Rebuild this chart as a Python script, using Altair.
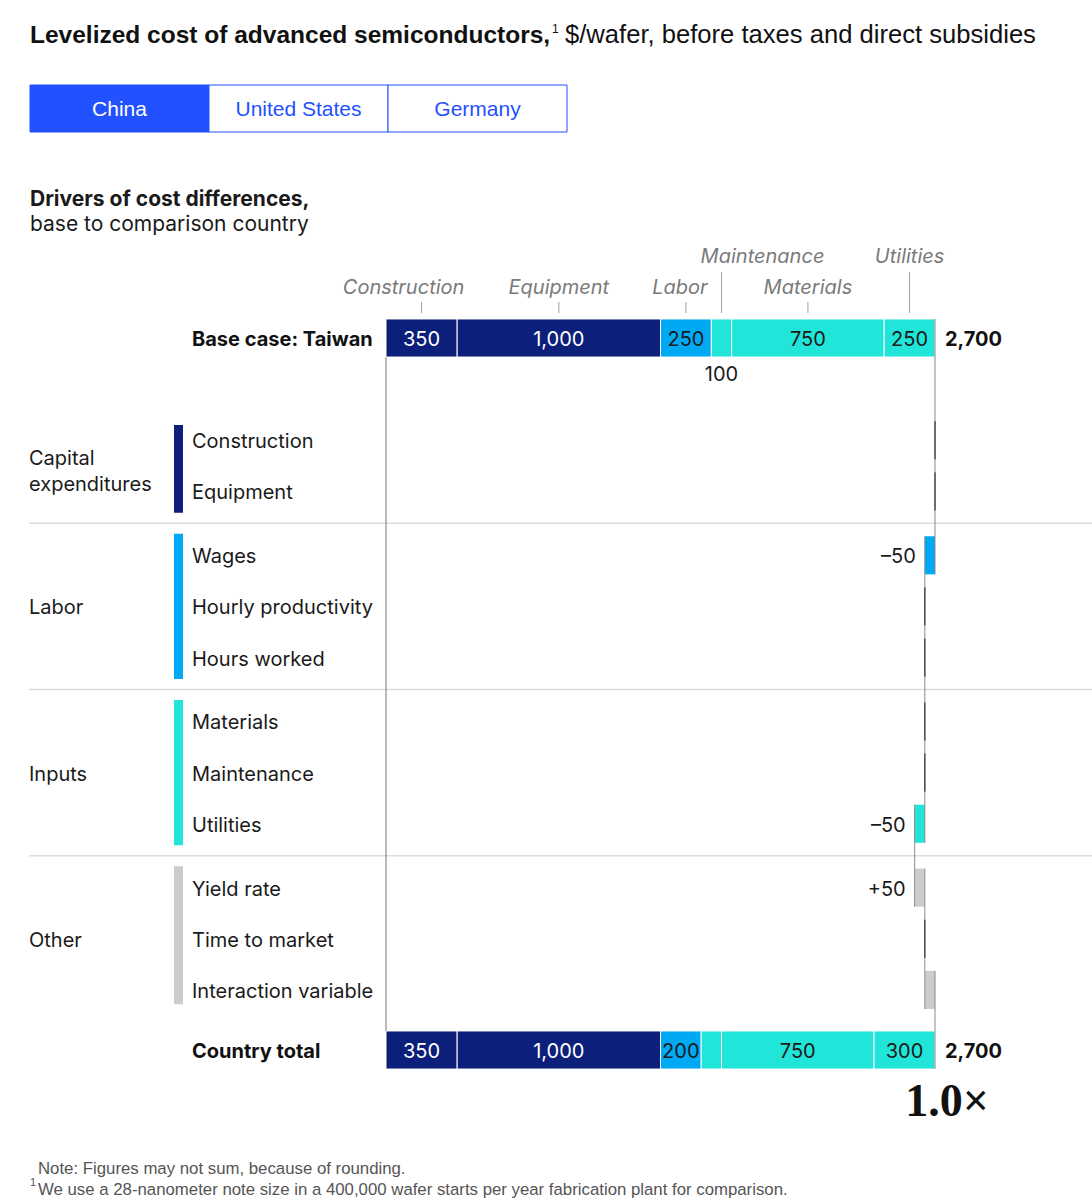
import altair as alt
import pandas as pd

# ---------------- data ----------------
tabs = ["China", "United States", "Germany"]
active_tab = "China"

cost_components = ["Construction", "Equipment", "Labor", "Maintenance", "Materials", "Utilities"]
component_group = ["Capital expenditures", "Capital expenditures", "Labor", "Inputs", "Inputs", "Inputs"]
base_values = [350, 1000, 250, 100, 750, 250]
total_values = [350, 1000, 200, 100, 750, 300]
base_name = "Base case: Taiwan"
total_name = "Country total"

group_names = ["Capital expenditures", "Labor", "Inputs", "Other"]
driver_names = ["Construction", "Equipment", "Wages", "Hourly productivity", "Hours worked",
                "Materials", "Maintenance", "Utilities", "Yield rate", "Time to market",
                "Interaction variable"]
driver_group = (["Capital expenditures"] * 2 + ["Labor"] * 3 + ["Inputs"] * 3 + ["Other"] * 3)
driver_changes = [0, 0, -50, 0, 0, 0, 0, -50, 50, 0, 50]
driver_labels = ["", "", "–50", "", "", "", "", "–50", "+50", "", ""]
multiple_label = "1.0×"

title_bold = "Levelized cost of advanced semiconductors,"
title_rest = "$/wafer, before taxes and direct subsidies"
sub_bold = "Drivers of cost differences,"
sub_rest = "base to comparison country"
note1 = "Note: Figures may not sum, because of rounding."
note2 = "We use a 28-nanometer note size in a 400,000 wafer starts per year fabrication plant for comparison."

# ---------------- styles / layout ----------------
BODY = "Inter"
NARROW = "Liberation Sans"
INK = "#1a1a1a"
BLUE = "#2251ff"
GROUP_COLOR = {"Capital expenditures": "#0b1f7b", "Labor": "#00a9f4",
               "Inputs": "#20e5d8", "Other": "#cccccc"}
HEAD, STEP, GAP, TAIL, HALF = 8, 4, 5, 4.7, 1.49
DY = 2  # optical baseline shift for middle-aligned text
LINE_H = 26

pos = []
p = 0
for i, g in enumerate(driver_group):
    if i == 0:
        p += HEAD
    elif g != driver_group[i - 1]:
        p += GAP
    else:
        p += STEP
    pos.append(p)
base_pos = 0
total_pos = pos[-1] + TAIL
px_per_slot = (1050 - 338) / total_pos

xs = alt.Scale(domain=[0, sum(base_values)], range=[386, 935], nice=False, zero=False)
ys = alt.Scale(domain=[0, total_pos], range=[338, 1050], nice=False, zero=False)

one = pd.DataFrame({"k": [0]})


def txt(s, x, y, size=20, weight="normal", color=INK, align="left",
        baseline="alphabetic", font=BODY, style="normal"):
    return alt.Chart(one).mark_text(
        text=s, align=align, baseline=baseline, fontSize=size, fontWeight=weight,
        color=color, font=font, fontStyle=style
    ).encode(x=alt.value(x), y=alt.value(y))


# stacked bars (base & total)
def stack_rows(values, name, p, below):
    rows, c = [], 0
    for comp, g, v in zip(cost_components, component_group, values):
        rows.append(dict(bar=name, comp=comp, start=c, end=c + v, mid=c + v / 2,
                         top=p - HALF, bot=p + HALF, pos=p, below_pos=p + 2.75,
                         color=GROUP_COLOR[g],
                         tcolor="white" if g == "Capital expenditures" else INK,
                         label=f"{v:,}" if v >= 150 else "",
                         below=f"{v:,}" if (v < 150 and below) else ""))
        c += v
    return rows


stack = pd.DataFrame(stack_rows(base_values, base_name, base_pos, True)
                     + stack_rows(total_values, total_name, total_pos, False))
totals = pd.DataFrame({"bar": [base_name, total_name],
                       "value": [sum(base_values), sum(total_values)],
                       "pos": [base_pos, total_pos]})
totals["label"] = totals["value"].map(lambda v: f"{v:,}")

# waterfall rows
cum = sum(base_values)
wf = []
for n, g, ch, lab, pp in zip(driver_names, driver_group, driver_changes, driver_labels, pos):
    wf.append(dict(name=n, group=g, start=cum, end=cum + ch, left=min(cum, cum + ch),
                   pos=pp, top=pp - HALF, bot=pp + HALF, color=GROUP_COLOR[g],
                   label=lab, zero=(ch == 0)))
    cum += ch
wf = pd.DataFrame(wf)

seq = [(base_pos, sum(base_values))] + list(zip(wf["pos"], wf["end"])) + [(total_pos, sum(total_values))]
conn = pd.DataFrame([dict(x=seq[i][1], y=seq[i][0] - HALF, y2=seq[i + 1][0] + HALF)
                     for i in range(len(seq) - 1)])
leftline = pd.DataFrame([dict(x=0, y=base_pos + HALF, y2=total_pos - HALF)])

# group info
gi = []
n_groups = len(group_names)
for k, g in enumerate(group_names):
    ps = [pp for pp, gg in zip(pos, driver_group) if gg == g]
    words = g.split(" ")
    n_lines = len(words)
    center = (ps[0] + ps[-1]) / 2 + (0.35 if n_lines > 1 else 0)
    gi.append(dict(group=g, first=ps[0], last=ps[-1],
                   y=ps[0] - (1.2 if k == 0 else 1.68),
                   y2=ps[-1] + (1.12 if k == n_groups - 1 else 1.68),
                   mid=center - (n_lines - 1) / 2 * LINE_H / px_per_slot,
                   text="\n".join(words), color=GROUP_COLOR[g]))
gi = pd.DataFrame(gi)
seps = pd.DataFrame({"y": [(gi["last"][i] + gi["first"][i + 1]) / 2 for i in range(len(gi) - 1)]})

row_labels = pd.DataFrame({"name": driver_names, "pos": pos})
bold_labels = pd.DataFrame({"name": [base_name, total_name], "pos": [base_pos, total_pos]})

# top component labels
base_stack = stack[stack["bar"] == base_name].reset_index(drop=True)
tier_y = [288, 288, 288, 257, 288, 257]
lab_dx = [-18, 0, -6, 41, 0, 0]
tick_top = [302, 302, 302, 272, 302, 272]
layers = []

# ---------------- layers ----------------
# title
layers += [
    txt(title_bold, 30, 43, size=24.5, weight="bold", font=NARROW, color="#111"),
    txt("1", 552, 33, size=12, font=NARROW, color="#111"),
    txt(title_rest, 565, 43, size=25.6, font=NARROW, color="#111"),
]
# tabs
for i, t in enumerate(tabs):
    x0, x1 = 30 + 179 * i, 30 + 179 * (i + 1)
    act = t == active_tab
    layers.append(alt.Chart(one).mark_rect(fill=BLUE if act else "white", stroke=BLUE,
                                           strokeWidth=1).encode(
        x=alt.value(x0), x2=alt.value(x1), y=alt.value(85), y2=alt.value(132)))
    layers.append(txt(t, (x0 + x1) / 2, 110, size=21, align="center", baseline="middle",
                      font=NARROW, color="white" if act else BLUE))
# subtitle
layers += [
    txt(sub_bold, 30, 206, size=21, weight="bold"),
    txt(sub_rest, 30, 231, size=21),
]

# separators
layers.append(alt.Chart(seps).mark_rule(color="#dddddd", strokeWidth=1.5).encode(
    x=alt.value(29), x2=alt.value(1092), y=alt.Y("y:Q", scale=ys, axis=None)))

# group color bars & labels
layers.append(alt.Chart(gi).mark_rect().encode(
    x=alt.value(174), x2=alt.value(183),
    y=alt.Y("y:Q", scale=ys, axis=None), y2="y2:Q",
    color=alt.Color("color:N", scale=None)))
layers.append(alt.Chart(gi).mark_text(align="left", baseline="middle", dy=DY, fontSize=20,
                                      font=BODY, color=INK, lineBreak="\n",
                                      lineHeight=LINE_H).encode(
    x=alt.value(29), y=alt.Y("mid:Q", scale=ys, axis=None), text="text:N"))

# row labels
layers.append(alt.Chart(row_labels).mark_text(align="left", baseline="middle", dy=DY,
                                              fontSize=20, font=BODY, color=INK).encode(
    x=alt.value(192), y=alt.Y("pos:Q", scale=ys, axis=None), text="name:N"))
layers.append(alt.Chart(bold_labels).mark_text(align="left", baseline="middle", dy=DY,
                                               fontSize=20, font=BODY, fontWeight="bold",
                                               color="#111").encode(
    x=alt.value(192), y=alt.Y("pos:Q", scale=ys, axis=None), text="name:N"))

# stacked bars
layers.append(alt.Chart(stack).mark_rect(stroke="white", strokeWidth=1).encode(
    x=alt.X("start:Q", scale=xs, axis=None), x2="end:Q",
    y=alt.Y("top:Q", scale=ys, axis=None), y2="bot:Q",
    color=alt.Color("color:N", scale=None)))
layers.append(alt.Chart(stack).mark_text(baseline="middle", dy=DY, fontSize=20,
                                         font=BODY).encode(
    x=alt.X("mid:Q", scale=xs, axis=None), y=alt.Y("pos:Q", scale=ys, axis=None),
    text="label:N", color=alt.Color("tcolor:N", scale=None)))
layers.append(alt.Chart(stack).mark_text(baseline="middle", dy=DY, fontSize=20, font=BODY,
                                         color=INK).encode(
    x=alt.X("mid:Q", scale=xs, axis=None), y=alt.Y("below_pos:Q", scale=ys, axis=None),
    text="below:N"))

# waterfall
layers.append(alt.Chart(wf[~wf["zero"]]).mark_rect().encode(
    x=alt.X("start:Q", scale=xs, axis=None), x2="end:Q",
    y=alt.Y("top:Q", scale=ys, axis=None), y2="bot:Q",
    color=alt.Color("color:N", scale=None)))
layers.append(alt.Chart(conn).mark_rule(color="#8a8a8a", strokeWidth=1).encode(
    x=alt.X("x:Q", scale=xs, axis=None), y=alt.Y("y:Q", scale=ys, axis=None), y2="y2:Q"))
layers.append(alt.Chart(leftline).mark_rule(color="#777777", strokeWidth=1).encode(
    x=alt.X("x:Q", scale=xs, axis=None), y=alt.Y("y:Q", scale=ys, axis=None), y2="y2:Q"))
layers.append(alt.Chart(wf[wf["zero"]]).mark_rule(color="#333333", strokeWidth=1).encode(
    x=alt.X("start:Q", scale=xs, axis=None),
    y=alt.Y("top:Q", scale=ys, axis=None), y2="bot:Q"))
layers.append(alt.Chart(wf).mark_text(align="right", baseline="middle", dx=-9, dy=DY,
                                      fontSize=20, font=BODY, color=INK).encode(
    x=alt.X("left:Q", scale=xs, axis=None), y=alt.Y("pos:Q", scale=ys, axis=None),
    text="label:N"))

# totals
layers.append(alt.Chart(totals).mark_text(align="left", baseline="middle", dx=10, dy=DY,
                                          fontSize=20, font=BODY, fontWeight="bold",
                                          color="#111").encode(
    x=alt.X("value:Q", scale=xs, axis=None), y=alt.Y("pos:Q", scale=ys, axis=None),
    text="label:N"))

# top component labels and ticks
for i, r in base_stack.iterrows():
    one_row = pd.DataFrame({"mid": [r["mid"]], "comp": [r["comp"]]})
    layers.append(alt.Chart(one_row).mark_rule(color="#a0a0a0", strokeWidth=1).encode(
        x=alt.X("mid:Q", scale=xs, axis=None), y=alt.value(tick_top[i]), y2=alt.value(313)))
    layers.append(alt.Chart(one_row).mark_text(baseline="middle", fontSize=20, font=BODY,
                                               fontStyle="italic", color="#7a7a7a",
                                               dx=lab_dx[i]).encode(
        x=alt.X("mid:Q", scale=xs, axis=None), y=alt.value(tier_y[i]), text="comp:N"))

# multiple
layers.append(txt(multiple_label, 947, 1116, size=46, weight="bold", align="center",
                  font="Liberation Serif", color="#111"))

# notes
layers += [
    txt(note1, 38, 1174, size=16.8, font=NARROW, color="#555"),
    txt("1", 30, 1186, size=11, font=NARROW, color="#555"),
    txt(note2, 38, 1195, size=16.8, font=NARROW, color="#555"),
]

chart = alt.layer(*layers).properties(
    width=1092, height=1200, padding=0,
    autosize=alt.AutoSizeParams(type="none"), background="white"
).configure_view(strokeWidth=0)

chart.save("out.html", embed_options={"renderer": "svg", "actions": False})
